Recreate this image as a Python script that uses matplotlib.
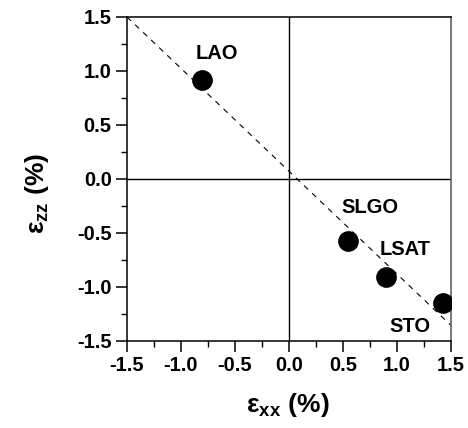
import numpy as np
import matplotlib
matplotlib.use("Agg")
import matplotlib.pyplot as plt

plt.rcParams["font.family"] = ["Liberation Sans", "DejaVu Sans"]
plt.rcParams["font.weight"] = "bold"
plt.rcParams["mathtext.fontset"] = "custom"
plt.rcParams["mathtext.rm"] = "Liberation Sans"
plt.rcParams["mathtext.bf"] = "Liberation Sans:bold"
plt.rcParams["mathtext.it"] = "Liberation Sans:italic"

# substrates and strain values (%)
substrates = ["LAO", "SLGO", "LSAT", "STO"]
exx = np.array([-0.81, 0.55, 0.90, 1.43])
ezz = np.array([0.92, -0.57, -0.91, -1.15])

# dashed guide line end points
fit_x = np.array([-1.5, 1.5])
fit_y = np.array([1.5, -1.356])

ticks = [-1.5, -1.0, -0.5, 0.0, 0.5, 1.0, 1.5]
tick_labels = ["-1.5", "-1.0", "-0.5", "0.0", "0.5", "1.0", "1.5"]

# label offsets in points from each marker
label_offsets = {"LAO": (-4, 19), "SLGO": (-5, 24), "LSAT": (-5, 20), "STO": (-39, -17)}

fig = plt.figure(figsize=(4.68, 4.28), dpi=100)
ax = fig.add_axes([127 / 468, 87 / 428, 324 / 468, 324 / 428])

ax.axhline(0, color="black", lw=1.0, zorder=1)
ax.axvline(0, color="black", lw=1.0, zorder=1)
ax.plot(fit_x, fit_y, color="black", lw=0.8, ls=(0, (5, 5)), zorder=2)
ax.plot(exx, ezz, "o", color="black", ms=13.9, zorder=3)

for name, x, y in zip(substrates, exx, ezz):
    ax.annotate(name, (x, y), xytext=label_offsets[name], textcoords="offset points",
                ha="left", va="center", fontsize=14.5, fontweight="bold")

ax.set_xlim(-1.5, 1.5)
ax.set_ylim(-1.5, 1.5)
ax.set_xticks(ticks)
ax.set_xticklabels(tick_labels)
ax.set_yticks(ticks)
ax.set_yticklabels(tick_labels)
ax.set_xticks(np.arange(-1.25, 1.5, 0.5), minor=True)
ax.set_yticks(np.arange(-1.25, 1.5, 0.5), minor=True)
ax.tick_params(which="major", direction="out", length=8, width=1.1, labelsize=14.5, pad=3,
               top=False, right=False)
ax.tick_params(which="minor", direction="out", length=4, width=1.0, top=False, right=False)
for lab in ax.get_xticklabels() + ax.get_yticklabels():
    lab.set_fontweight("bold")
for sp in ax.spines.values():
    sp.set_linewidth(1.1)
ax.spines["right"].set_color("#555555")

ax.set_xlabel(r"$\mathrm{ε}_{\mathbf{xx}}\ \mathbf{(\%)}$", fontsize=19)
ax.set_ylabel(r"$\mathrm{ε}_{\mathbf{zz}}\ \mathbf{(\%)}$", fontsize=19)
ax.xaxis.set_label_coords(0.495, -0.155)
ax.yaxis.set_label_coords(-0.235, 0.455)

fig.savefig("out.png", dpi=100)
